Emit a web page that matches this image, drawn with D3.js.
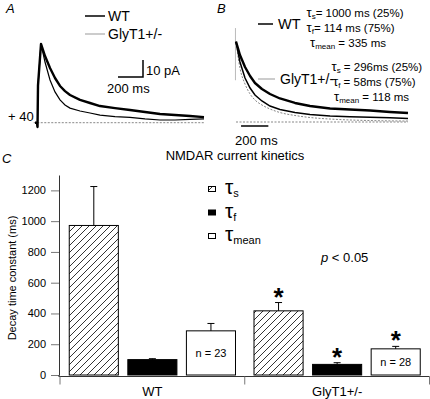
<!DOCTYPE html>
<html>
<head>
<meta charset="utf-8">
<script src="https://cdn.jsdelivr.net/npm/d3@7"></script>
<style>
body { margin: 0; background: #fff; }
text { font-family: "Liberation Sans", Arial, sans-serif; fill: #000; }
</style>
</head>
<body>
<div id="chart"></div>
<script>
// ---- bar chart data (panel C) ----
const groups = ["WT", "GlyT1+/-"];
const measures = ["s", "f", "mean"];
const wtMean = [972, 100, 287];
const wtSem = [253, 6, 48];
const glyMean = [417, 69, 170];
const glySem = [54, 11, 16];
const nLabels = ["n = 23", "n = 28"];
const glyStars = [true, true, true];
const yTicks = [0, 200, 400, 600, 800, 1000, 1200];

// ---- panel A traces: time (ms), current (pA) ----
const timeA = [0, 16, 20, 24, 48, 80, 120, 160, 200, 240, 280, 360, 440, 520, 640, 760, 880, 1000, 1120, 1240, 1352];
const wtCurrentA = [0, 0, -2.5, 22, 46.3, 39.2, 32.2, 26.3, 21.6, 18.6, 16.3, 13.4, 11.6, 9.8, 8.6, 7.5, 6.3, 5.1, 4.5, 3.9, 3.3];
const glyCurrentA = [0, 0, -2.5, 22, 46.3, 35.7, 25.1, 18.1, 13.4, 10.4, 8.6, 6.9, 5.7, 4.5, 3.6, 3.1, 2.2, 1.6, 1.6, 1.9, 2.2];

// ---- panel B traces: time (ms), normalised current ----
const timeB = [0, 29, 66, 103, 139, 190, 249, 322, 432, 542, 689, 835, 982, 1128, 1260];
const wtNormB = [1, 0.834, 0.685, 0.573, 0.486, 0.411, 0.349, 0.293, 0.237, 0.199, 0.168, 0.156, 0.143, 0.125, 0.112];
const glyNormB = [1, 0.747, 0.548, 0.423, 0.336, 0.262, 0.199, 0.156, 0.118, 0.093, 0.075, 0.066, 0.058, 0.052, 0.045];
const fitNormB = [1, 0.672, 0.473, 0.349, 0.274, 0.212, 0.162, 0.118, 0.081, 0.056, 0.037, 0.025, 0.018, 0.014, 0.012];
const artifactB = [1.17, 0.52];

const wtFitText = [["s", "= 1000 ms (25%)"], ["f", "= 114 ms (75%)"], ["mean", " = 335 ms"]];
const glyFitText = [["s", " = 296ms (25%)"], ["f", " = 58ms (75%)"], ["mean", " = 118 ms"]];

const width = 430, height = 399;

const svg = d3.select("#chart").append("svg")
    .attr("width", width)
    .attr("height", height);

svg.append("rect").attr("width", width).attr("height", height).attr("fill", "#fff");

// hatch pattern for tau_s
const defs = svg.append("defs");
defs.append("pattern")
    .attr("id", "hatch")
    .attr("patternUnits", "userSpaceOnUse")
    .attr("width", 7).attr("height", 7)
    .append("path")
    .attr("d", "M-1,1 l2,-2 M0,7 l7,-7 M6,8 l2,-2")
    .attr("stroke", "#000")
    .attr("stroke-width", 0.8);

// ================= panel A =================
const xA = d3.scaleLinear().domain([0, 1360]).range([35, 205]);
const yA = d3.scaleLinear().domain([0, 10]).range([122.7, 105.7]);

const lineA = d3.line().x(d => xA(d[0])).y(d => yA(d[1]));

svg.append("line")
    .attr("x1", xA(-10)).attr("x2", xA(1360))
    .attr("y1", yA(0)).attr("y2", yA(0))
    .attr("stroke", "#555").attr("stroke-width", 0.7)
    .attr("stroke-dasharray", "2,1.5");

svg.append("path")
    .datum(d3.zip(timeA, glyCurrentA))
    .attr("d", lineA)
    .attr("fill", "none").attr("stroke", "#000").attr("stroke-width", 1.2);

svg.append("path")
    .datum(d3.zip(timeA, wtCurrentA))
    .attr("d", lineA)
    .attr("fill", "none").attr("stroke", "#000").attr("stroke-width", 2.4)
    .attr("stroke-linejoin", "round");

// scale bars A
svg.append("path")
    .attr("d", `M${xA(664)},${yA(26.9)} H${xA(864)} V${yA(36.9)}`)
    .attr("fill", "none").attr("stroke", "#000").attr("stroke-width", 1.5);
svg.append("text").attr("x", 146).attr("y", 75).attr("font-size", 13).text("10 pA");
svg.append("text").attr("x", 107).attr("y", 93).attr("font-size", 13).text("200 ms");
svg.append("text").attr("x", 8).attr("y", 121).attr("font-size", 13).text("+ 40");

// legend A
svg.append("line").attr("x1", 85).attr("x2", 105).attr("y1", 16).attr("y2", 16)
    .attr("stroke", "#000").attr("stroke-width", 1.5);
svg.append("line").attr("x1", 85).attr("x2", 105).attr("y1", 34).attr("y2", 34)
    .attr("stroke", "#bbb").attr("stroke-width", 1.5);
svg.append("text").attr("x", 108).attr("y", 21).attr("font-size", 14).text(groups[0]);
svg.append("text").attr("x", 108).attr("y", 39).attr("font-size", 14).text(groups[1]);

svg.append("text").attr("x", 6).attr("y", 13).attr("font-size", 13)
    .attr("font-style", "italic").text("A");

// ================= panel B =================
const xB = d3.scaleLinear().domain([0, 1260]).range([236, 408]);
const yB = d3.scaleLinear().domain([0, 1]).range([122, 41.7]);
const lineB = d3.line().x(d => xB(d[0])).y(d => yB(d[1]));

svg.append("line")
    .attr("x1", xB(0)).attr("x2", xB(1260))
    .attr("y1", yB(0)).attr("y2", yB(0))
    .attr("stroke", "#555").attr("stroke-width", 0.7)
    .attr("stroke-dasharray", "2,1.5");

svg.append("line")
    .attr("x1", xB(-4)).attr("x2", xB(-4))
    .attr("y1", yB(artifactB[0])).attr("y2", yB(artifactB[1]))
    .attr("stroke", "#bbb").attr("stroke-width", 1);

svg.append("path")
    .datum(d3.zip(timeB, fitNormB))
    .attr("d", d3.line().x(d => xB(d[0])).y(d => yB(d[1])).curve(d3.curveMonotoneX))
    .attr("fill", "none").attr("stroke", "#666").attr("stroke-width", 0.8)
    .attr("stroke-dasharray", "2,1.5");

svg.append("path")
    .datum(d3.zip(timeB, glyNormB))
    .attr("d", lineB)
    .attr("fill", "none").attr("stroke", "#000").attr("stroke-width", 1.5);

svg.append("path")
    .datum(d3.zip(timeB, wtNormB))
    .attr("d", lineB)
    .attr("fill", "none").attr("stroke", "#000").attr("stroke-width", 2.4)
    .attr("stroke-linejoin", "round");

// scale bar B
svg.append("line")
    .attr("x1", xB(37)).attr("x2", xB(237))
    .attr("y1", 126).attr("y2", 126)
    .attr("stroke", "#000").attr("stroke-width", 1.5);
svg.append("text").attr("x", 235).attr("y", 145).attr("font-size", 13).text("200 ms");

// legend B
svg.append("line").attr("x1", 258).attr("x2", 273).attr("y1", 24).attr("y2", 24)
    .attr("stroke", "#000").attr("stroke-width", 1.5);
svg.append("line").attr("x1", 258).attr("x2", 275).attr("y1", 79).attr("y2", 79)
    .attr("stroke", "#bbb").attr("stroke-width", 1.5);
svg.append("text").attr("x", 278).attr("y", 29).attr("font-size", 14.5).text(groups[0]);
svg.append("text").attr("x", 280).attr("y", 84).attr("font-size", 14).text(groups[1]);

function tauText(x, y, sub, rest, big, small, body) {
    const t = svg.append("text").attr("x", x).attr("y", y);
    t.append("tspan").attr("font-size", big).text("τ");
    t.append("tspan").attr("font-size", small).attr("dy", 2).text(sub);
    t.append("tspan").attr("font-size", body).attr("dy", -2).text(rest);
}

const wtFitY = [17, 32, 46.5];
const wtFitX = [306.5, 306.5, 310];
wtFitText.forEach((d, i) => tauText(wtFitX[i], wtFitY[i], d[0], d[1], 13, 8, 11.5));
const glyFitY = [70.5, 85.5, 100.5];
const glyFitX = [331.5, 333, 334];
glyFitText.forEach((d, i) => tauText(glyFitX[i], glyFitY[i], d[0], d[1], 13, 8, 11.5));

svg.append("text").attr("x", 217).attr("y", 13).attr("font-size", 13)
    .attr("font-style", "italic").text("B");

// ================= panel C =================
const x0 = d3.scaleBand().domain(groups).range([60, 429.5]);
const x1 = d3.scaleBand().domain(measures).range([0, x0.bandwidth()])
    .paddingInner(0.162).paddingOuter(0.158);
const y = d3.scaleLinear().domain([0, 1300]).range([375, 175]);

const barData = [];
groups.forEach((g, gi) => {
    const means = gi === 0 ? wtMean : glyMean;
    const sems = gi === 0 ? wtSem : glySem;
    measures.forEach((m, mi) => {
        barData.push({group: g, gi: gi, measure: m, mi: mi, mean: means[mi], sem: sems[mi],
            star: gi === 1 && glyStars[mi]});
    });
});

const fills = {s: "url(#hatch)", f: "#000", mean: "#fff"};

// y axis
const yAxis = svg.append("g")
    .attr("transform", "translate(59,0)")
    .call(d3.axisLeft(y).tickValues(yTicks).tickFormat(d3.format("d"))
        .tickSize(8).tickSizeOuter(0).tickPadding(5));
yAxis.select(".domain").attr("stroke", "#333");
yAxis.selectAll(".tick line").attr("stroke", "#777");
yAxis.selectAll(".tick text").attr("font-size", 11)
    .attr("font-family", "Liberation Sans, Arial, sans-serif").attr("fill", "#222");

svg.append("line").attr("x1", 59).attr("x2", 59).attr("y1", 375).attr("y2", 377)
    .attr("stroke", "#333");

// x axis
const xAxisY = 376.5;
svg.append("line").attr("x1", 59).attr("x2", 429.5).attr("y1", xAxisY).attr("y2", xAxisY)
    .attr("stroke", "#333");
const bounds = groups.map(g => x0(g)).concat([x0.range()[1]]);
svg.selectAll(".xtick").data(bounds).enter().append("line")
    .attr("class", "xtick")
    .attr("x1", d => d).attr("x2", d => d)
    .attr("y1", xAxisY).attr("y2", xAxisY + 8)
    .attr("stroke", "#777");
const xAxis = svg.append("g")
    .attr("transform", `translate(0,${xAxisY})`)
    .call(d3.axisBottom(x0).tickSize(0).tickPadding(10));
xAxis.select(".domain").remove();
xAxis.selectAll(".tick text").attr("font-size", 13)
    .attr("font-family", "Liberation Sans, Arial, sans-serif").attr("fill", "#000");

// bars
const bars = svg.append("g");
bars.selectAll("rect").data(barData).enter().append("rect")
    .attr("x", d => x0(d.group) + x1(d.measure))
    .attr("y", d => y(d.mean))
    .attr("width", x1.bandwidth())
    .attr("height", d => y(0) - y(d.mean))
    .attr("fill", d => fills[d.measure])
    .attr("stroke", "#000").attr("stroke-width", 1);

// error bars
const cx = d => x0(d.group) + x1(d.measure) + x1.bandwidth() / 2;
bars.selectAll(".err").data(barData).enter().append("path")
    .attr("class", "err")
    .attr("d", d => `M${cx(d)},${y(d.mean)} V${y(d.mean + d.sem)} M${cx(d) - 3.5},${y(d.mean + d.sem)} H${cx(d) + 3.5}`)
    .attr("stroke", "#000").attr("stroke-width", 1).attr("fill", "none");

// stars
bars.selectAll(".star").data(barData.filter(d => d.star)).enter().append("text")
    .attr("class", "star")
    .attr("x", cx)
    .attr("y", d => y(d.mean + d.sem) + 3)
    .attr("text-anchor", "middle")
    .attr("font-size", 26).attr("font-weight", "bold")
    .text("*");

// n labels in mean bars
bars.selectAll(".nlab").data(barData.filter(d => d.measure === "mean")).enter().append("text")
    .attr("class", "nlab")
    .attr("x", cx)
    .attr("y", d => (y(d.mean) + y(0)) / 2)
    .attr("dy", "0.35em")
    .attr("text-anchor", "middle")
    .attr("font-size", 11)
    .text(d => nLabels[d.gi]);

// legend C
const legendY = [189, 212.5, 236];
const leg = svg.append("g");
measures.forEach((m, i) => {
    leg.append("rect")
        .attr("x", 208.5).attr("y", legendY[i] - 2.5)
        .attr("width", 7).attr("height", 5)
        .attr("fill", fills[m]).attr("stroke", "#000").attr("stroke-width", 1);
    const t = leg.append("text").attr("x", 225).attr("y", legendY[i] + 5);
    t.append("tspan").attr("font-size", 21).text("τ");
    t.append("tspan").attr("font-size", 11).attr("dy", 3).text(m);
});

svg.append("text").attr("x", 321).attr("y", 262).attr("font-size", 13)
    .html('<tspan font-style="italic">p</tspan> &lt; 0.05');

// y label
svg.append("text")
    .attr("transform", "translate(16,278) rotate(-90)")
    .attr("text-anchor", "middle")
    .attr("font-size", 11)
    .text("Decay time constant (ms)");

// title
svg.append("text").attr("x", 235).attr("y", 160).attr("text-anchor", "middle")
    .attr("font-size", 13).text("NMDAR current kinetics");

svg.append("text").attr("x", 2).attr("y", 163).attr("font-size", 13)
    .attr("font-style", "italic").text("C");
</script>
</body>
</html>
